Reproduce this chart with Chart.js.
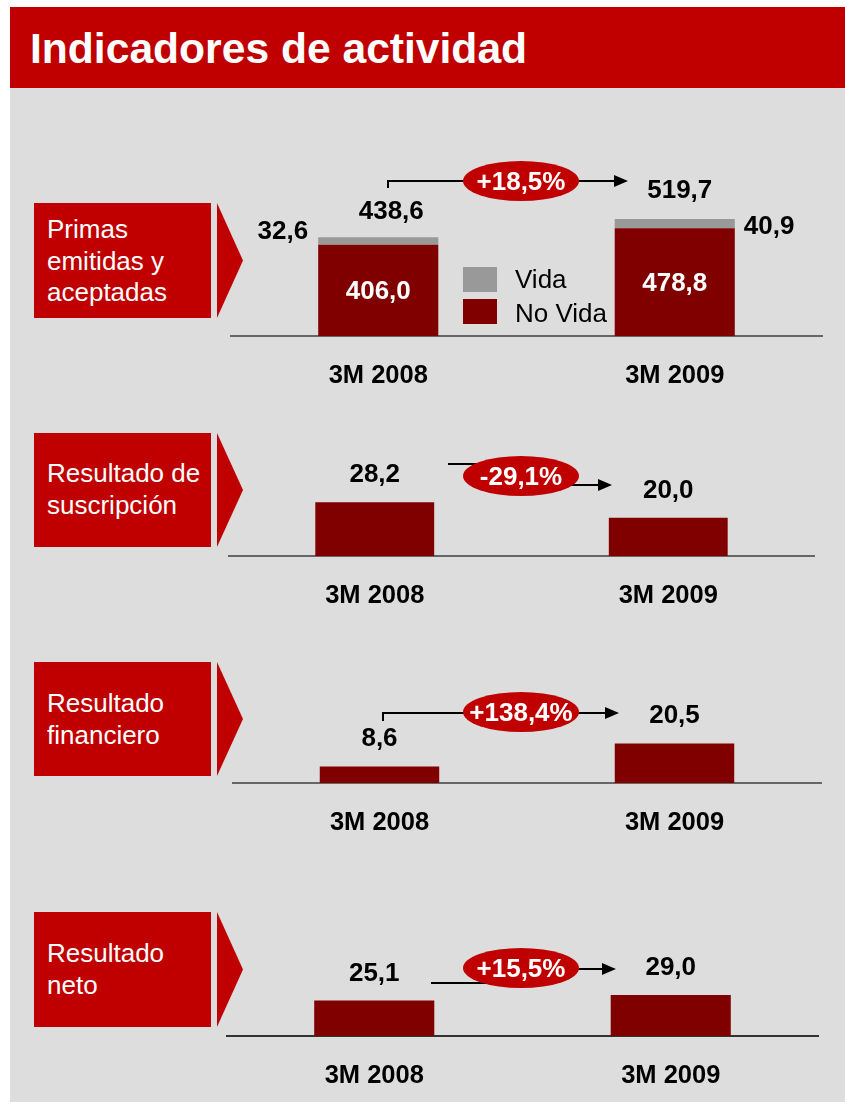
<!DOCTYPE html>
<html>
<head>
<meta charset="utf-8">
<script src="https://cdn.jsdelivr.net/npm/chart.js@4/dist/chart.umd.min.js"></script>
<style>
body { margin: 0; background: #fff; font-family: "Liberation Sans", Arial, sans-serif; }
#page { position: relative; width: 845px; height: 1104px; overflow: hidden; }
#title { position: absolute; left: 10px; top: 7px; width: 835px; height: 81px; background: #c00000; }
#title span { position: absolute; left: 20px; top: 20px; color: #fff; font-weight: bold; font-size: 42.6px; line-height: 43px; white-space: nowrap; }
#panel { position: absolute; left: 10px; top: 88px; width: 835px; height: 1014px; background: #dddddd; }
.box { position: absolute; left: 34px; width: 177px; background: #c00000; }
.chev { position: absolute; left: 217px; width: 26px; background: #c00000; clip-path: polygon(0 0, 100% 50%, 0 100%); }
.lbl { position: absolute; left: 47px; color: #fff; font-size: 26px; line-height: 31.5px; white-space: nowrap; }
canvas { position: absolute; }
</style>
</head>
<body>
<div id="page">
  <div id="panel"></div>
  <div id="title"><span>Indicadores de actividad</span></div>
</div>
<script>
// data
const categories = ['3M 2008', '3M 2009'];
const primasNoVida = [406.0, 478.8];
const primasVida = [32.6, 40.9];
const primasTotal = [438.6, 519.7];
const suscripcion = [28.2, 20.0];
const financiero = [8.6, 20.5];
const neto = [25.1, 29.0];
const growth = ['+18,5%', '-29,1%', '+138,4%', '+15,5%'];
const panelTitles = [
    ['Primas', 'emitidas y', 'aceptadas'],
    ['Resultado de', 'suscripción'],
    ['Resultado', 'financiero'],
    ['Resultado', 'neto']
];

// layout (page pixels)
const plotH = 200;
const layout = [
    { box: 203, boxH: 115, text: 214, axisY: 336, x0: 230, x1: 823, pxPerUnit: 0.225, axisColor: '#666',
      arrow: { sx: 388, sy: 188, y1: 181, y2: 181, tip: 628, cx: 521, cy: 181 } },
    { box: 433, boxH: 114, text: 458, axisY: 556, x0: 228, x1: 815, pxPerUnit: 1.91, axisColor: '#666',
      arrow: { sx: 448, sy: 464, y1: 464, y2: 485, tip: 612, cx: 521, cy: 476 } },
    { box: 662, boxH: 114, text: 688, axisY: 783, x0: 232, x1: 822, pxPerUnit: 1.93, axisColor: '#666',
      arrow: { sx: 383, sy: 721, y1: 713, y2: 713, tip: 619, cx: 521, cy: 712 } },
    { box: 912, boxH: 115, text: 938, axisY: 1036, x0: 226, x1: 819, pxPerUnit: 1.41, axisColor: '#333',
      arrow: { sx: 431, sy: 983, y1: 983, y2: 969, tip: 616, cx: 521, cy: 968 } }
];

const RED = '#c00000';
const DARK = '#800000';
const GREY = '#999999';
const FONT = 'Liberation Sans';

function fmt(v) {
    return v.toFixed(1).replace('.', ',');
}

var page = document.getElementById('page');

// red label boxes with chevrons
layout.forEach(function (p, i) {
    var box = document.createElement('div');
    box.className = 'box';
    box.style.top = p.box + 'px';
    box.style.height = p.boxH + 'px';
    page.appendChild(box);

    var chev = document.createElement('div');
    chev.className = 'chev';
    chev.style.top = p.box + 'px';
    chev.style.height = p.boxH + 'px';
    page.appendChild(chev);

    var lbl = document.createElement('div');
    lbl.className = 'lbl';
    lbl.style.top = p.text + 'px';
    lbl.innerHTML = panelTitles[i].join('<br>');
    page.appendChild(lbl);
});

function text(ctx, str, x, y, align, color, size, bold) {
    ctx.font = (bold ? 'bold ' : '') + size + 'px "' + FONT + '"';
    ctx.fillStyle = color;
    ctx.textAlign = align;
    ctx.textBaseline = 'alphabetic';
    ctx.fillText(str, x, y);
}

const deco = {
    id: 'deco',
    afterDatasetsDraw(chart, args, opts) {
        var i = opts.panel;
        var p = layout[i];
        var ox = p.x0, oy = p.axisY - plotH;
        var ctx = chart.ctx;
        ctx.save();
        ctx.translate(-ox, -oy); // page coordinates from here

        if (i === 0) {
            var noVida = chart.getDatasetMeta(0).data;
            var vida = chart.getDatasetMeta(1).data;
            noVida.forEach(function (bar, k) {
                text(ctx, fmt(primasNoVida[k]), bar.x + ox, (bar.y + bar.base) / 2 + oy + 9, 'center', '#fff', 26, true);
            });
            // vida side labels
            var v0 = vida[0], v1 = vida[1];
            text(ctx, fmt(primasVida[0]), v0.x - v0.width / 2 + ox - 10, v0.y + oy + 2, 'right', '#000', 26, true);
            text(ctx, fmt(primasVida[1]), v1.x + v1.width / 2 + ox + 9, v1.y + oy + 15, 'left', '#000', 26, true);
            // totals
            text(ctx, fmt(primasTotal[0]), v0.x + ox + 13, v0.y + oy - 18, 'center', '#000', 26, true);
            text(ctx, fmt(primasTotal[1]), v1.x + ox + 5, v1.y + oy - 21, 'center', '#000', 26, true);
            // legend
            var items = [chart.data.datasets[1], chart.data.datasets[0]];
            items.forEach(function (ds, k) {
                ctx.fillStyle = ds.backgroundColor;
                ctx.fillRect(463, 267 + k * 32, 34, 25);
                text(ctx, ds.label, 515, 288 + k * 34, 'left', '#000', 26, false);
            });
        } else {
            var values = chart.data.datasets[0].data;
            chart.getDatasetMeta(0).data.forEach(function (bar, k) {
                text(ctx, fmt(values[k]), bar.x + ox, bar.y + oy - 20, 'center', '#000', 26, true);
            });
        }

        // growth arrow
        var a = p.arrow;
        ctx.strokeStyle = '#000';
        ctx.lineWidth = 2;
        ctx.beginPath();
        ctx.moveTo(a.sx, a.sy);
        ctx.lineTo(a.sx, a.y1);
        ctx.lineTo(a.cx, a.y1);
        ctx.lineTo(a.cx, a.y2);
        ctx.lineTo(a.tip - 12, a.y2);
        ctx.stroke();
        ctx.fillStyle = '#000';
        ctx.beginPath();
        ctx.moveTo(a.tip, a.y2);
        ctx.lineTo(a.tip - 14, a.y2 - 6);
        ctx.lineTo(a.tip - 14, a.y2 + 6);
        ctx.closePath();
        ctx.fill();

        ctx.fillStyle = RED;
        ctx.beginPath();
        ctx.ellipse(a.cx, a.cy, 58, 20, 0, 0, Math.PI * 2);
        ctx.fill();
        text(ctx, growth[i], a.cx, a.cy + 9, 'center', '#fff', 26, true);

        ctx.restore();
    }
};

function makeChart(i, datasets) {
    var p = layout[i];
    var canvas = document.createElement('canvas');
    canvas.width = p.x1 - p.x0;
    canvas.height = plotH + 60;
    canvas.style.left = p.x0 + 'px';
    canvas.style.top = (p.axisY - plotH) + 'px';
    page.appendChild(canvas);

    datasets.forEach(function (ds) {
        ds.barPercentage = 0.405;
        ds.categoryPercentage = 1.0;
        ds.borderWidth = 0;
    });

    return new Chart(canvas.getContext('2d'), {
        type: 'bar',
        data: { labels: categories, datasets: datasets },
        options: {
            responsive: false,
            animation: false,
            devicePixelRatio: 1,
            layout: { padding: 0 },
            plugins: {
                legend: { display: false },
                tooltip: { enabled: false },
                deco: { panel: i }
            },
            scales: {
                x: {
                    stacked: true,
                    grid: { display: false },
                    border: { display: true, color: p.axisColor, width: 2 },
                    ticks: {
                        color: '#000',
                        padding: 17,
                        font: { family: FONT, size: 25.5, weight: 'bold' }
                    },
                    afterFit: function (s) { s.height = 60; }
                },
                y: {
                    stacked: true,
                    display: false,
                    min: 0,
                    max: plotH / p.pxPerUnit
                }
            }
        },
        plugins: [deco]
    });
}

makeChart(0, [
    { label: 'No Vida', data: primasNoVida, backgroundColor: DARK },
    { label: 'Vida', data: primasVida, backgroundColor: GREY }
]);
makeChart(1, [{ label: 'Resultado de suscripción', data: suscripcion, backgroundColor: DARK }]);
makeChart(2, [{ label: 'Resultado financiero', data: financiero, backgroundColor: DARK }]);
makeChart(3, [{ label: 'Resultado neto', data: neto, backgroundColor: DARK }]);
</script>
</body>
</html>
